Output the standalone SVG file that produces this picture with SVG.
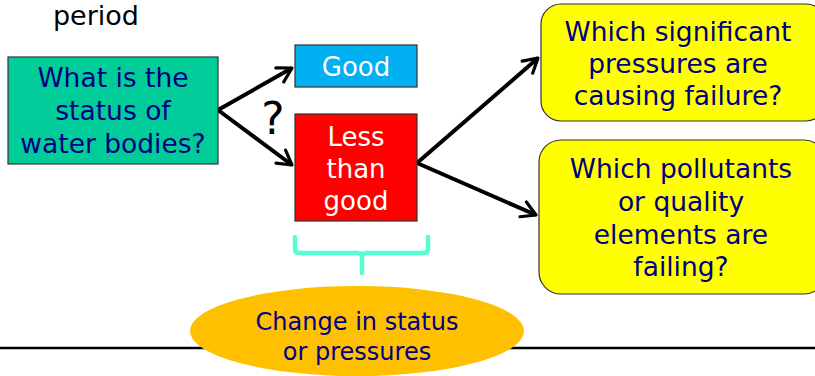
<svg xmlns="http://www.w3.org/2000/svg" width="815" height="376" viewBox="0 0 815 376">
<style>
text{font-family:"DejaVu Sans","Verdana",sans-serif;text-anchor:middle}
.navy{fill:#000080;font-size:26.5px}
.white{fill:#ffffff;font-size:26px}
.box{stroke:#333;stroke-width:1.2}
.conn{stroke:#000;stroke-width:4;fill:none;marker-end:url(#ah)}
</style>
<defs>
<marker id="ah" viewBox="0 0 10 10" refX="8" refY="5" markerWidth="5" markerHeight="5" orient="auto" markerUnits="strokeWidth">
<path d="M1,1 L8,5 L1,9" fill="none" stroke="#000" stroke-width="1.6" stroke-linecap="round" stroke-linejoin="round"/>
</marker>
</defs>
<rect width="815" height="376" fill="#fff"/>
<text x="96" y="25" style="font-size:27px;fill:#000">period</text>
<line x1="0" y1="348" x2="815" y2="348" stroke="#000" stroke-width="2.5"/>
<g id="connectors">
<line class="conn" x1="218" y1="110" x2="292" y2="68"/>
<line class="conn" x1="218" y1="110" x2="292" y2="165"/>
<line class="conn" x1="417" y1="163" x2="538" y2="58"/>
<line class="conn" x1="417" y1="163" x2="536" y2="215"/>
<path d="M295,237 V249 Q295,253 299,253 H358 Q362,253 362,257 V273 M362,257 Q362,253 366,253 H424 Q428,253 428,249 V237" fill="none" stroke="#55FFD0" stroke-width="4.5" stroke-linecap="round"/>
</g>
<text x="273" y="134" style="font-size:44px;fill:#000">?</text>
<g id="status">
<rect class="box" x="8" y="57" width="210" height="107" fill="#00CC99"/>
<text class="navy" x="113" y="87">What is the</text>
<text class="navy" x="113" y="120">status of</text>
<text class="navy" x="113" y="153">water bodies?</text>
</g>
<g id="good">
<rect class="box" x="295" y="45" width="122" height="42" fill="#00B0F0"/>
<text class="white" x="356" y="76">Good</text>
</g>
<g id="less">
<rect class="box" x="295" y="114" width="122" height="107" fill="#FF0000"/>
<text class="white" x="356" y="146">Less</text>
<text class="white" x="356" y="178">than</text>
<text class="white" x="356" y="210">good</text>
</g>
<g id="pressures">
<rect class="box" x="541" y="4" width="285" height="117" rx="20" fill="#FFFF00"/>
<text class="navy" x="678" y="41">Which significant</text>
<text class="navy" x="678" y="73">pressures are</text>
<text class="navy" x="678" y="105">causing failure?</text>
</g>
<g id="pollutants">
<rect class="box" x="539" y="140" width="287" height="154" rx="22" fill="#FFFF00"/>
<text class="navy" x="681" y="178">Which pollutants</text>
<text class="navy" x="681" y="211">or quality</text>
<text class="navy" x="681" y="244">elements are</text>
<text class="navy" x="681" y="276">failing?</text>
</g>
<g id="change">
<ellipse cx="357" cy="331" rx="167" ry="45" fill="#FFC000"/>
<text class="navy" x="357" y="330" style="font-size:24px">Change in status</text>
<text class="navy" x="357" y="360" style="font-size:24px">or pressures</text>
</g>
</svg>
